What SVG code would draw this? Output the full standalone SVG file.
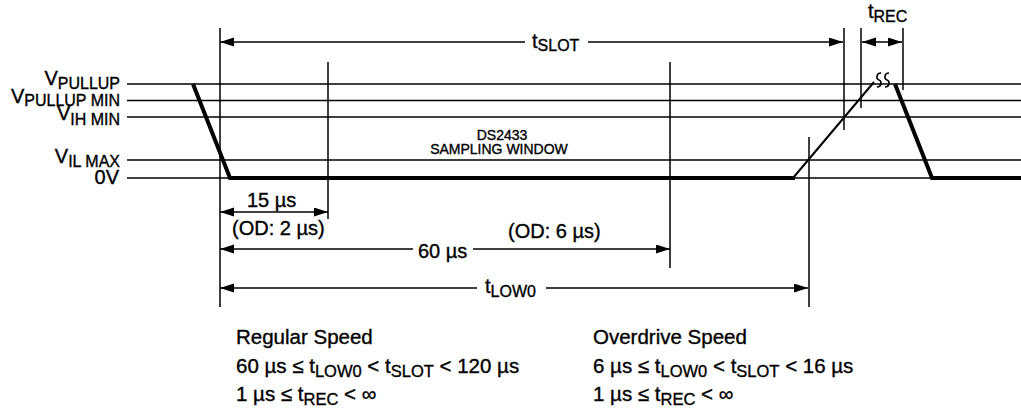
<svg xmlns="http://www.w3.org/2000/svg" width="1021" height="412" viewBox="0 0 1021 412">
<defs>
<marker id="ah" markerUnits="userSpaceOnUse" markerWidth="14" markerHeight="10" refX="14" refY="4.5" orient="auto-start-reverse">
<path d="M0,0 L14,4.5 L0,9 z" fill="#000"/>
</marker>
</defs>
<style>
text{font-family:"Liberation Sans",Arial,sans-serif;fill:#000;stroke:#000;stroke-width:0.35}
.t{font-size:20px}
.s{font-size:16px}
.b{font-size:20.5px}
.bs{font-size:16.5px}
.sw{font-size:14px}
.lv{stroke:#000;stroke-width:1.5;fill:none}
.ref{stroke:#000;stroke-width:1.5;fill:none}
.dim{stroke:#000;stroke-width:1.6;fill:none}
.sig{stroke:#000;stroke-width:4;fill:none;stroke-linejoin:miter}
</style>
<rect width="1021" height="412" fill="#fff"/>
<g id="levels">
<line class="lv" x1="127" y1="84" x2="1021" y2="84"/>
<line class="lv" x1="127" y1="100.5" x2="1021" y2="100.5"/>
<line class="lv" x1="127" y1="117" x2="1021" y2="117"/>
<line class="lv" x1="127" y1="160" x2="1021" y2="160"/>
<line class="lv" x1="127" y1="178" x2="1021" y2="178"/>
</g>
<g id="level-labels" text-anchor="end">
<text class="t" x="120" y="85">V<tspan class="s" dy="4">PULLUP</tspan></text>
<text class="t" x="120" y="103">V<tspan class="s" dy="3">PULLUP MIN</tspan></text>
<text class="t" x="120" y="120">V<tspan class="s" dy="5">IH MIN</tspan></text>
<text class="t" x="120" y="163">V<tspan class="s" dy="4">IL MAX</tspan></text>
<text class="t" x="119" y="184">0V</text>
</g>
<g id="reference-lines">
<line class="ref" x1="220" y1="28" x2="220" y2="307"/>
<line class="ref" x1="328" y1="62" x2="328" y2="219"/>
<line class="ref" x1="670" y1="62" x2="670" y2="268"/>
<line class="ref" x1="809" y1="137" x2="809" y2="307"/>
<line class="ref" x1="844" y1="28" x2="844" y2="130"/>
<line class="ref" x1="861" y1="28" x2="861" y2="108"/>
<line class="ref" x1="903" y1="28" x2="903" y2="90"/>
</g>
<g id="signal">
<polyline class="sig" points="193,84 230,178 795,178"/>
<line x1="793" y1="178" x2="874" y2="82" stroke="#000" stroke-width="2"/>
<path d="M881,73 C876,73 876,79 879,80 C882,81 882,87 877,87 M889,73 C884,73 884,79 887,80 C890,81 890,87 885,87" stroke="#000" stroke-width="1.6" fill="none"/>
<polyline class="sig" points="895,84 932,178 1021,178"/>
</g>
<g id="connectors">
<line class="dim" x1="220" y1="42" x2="525" y2="42" marker-start="url(#ah)"/>
<line class="dim" x1="588" y1="42" x2="843" y2="42" marker-end="url(#ah)"/>
<line class="dim" x1="862" y1="42" x2="902" y2="42" marker-start="url(#ah)" marker-end="url(#ah)"/>
<line class="dim" x1="220" y1="212" x2="328" y2="212" marker-start="url(#ah)" marker-end="url(#ah)"/>
<line class="dim" x1="220" y1="249" x2="413" y2="249" marker-start="url(#ah)"/>
<line class="dim" x1="473" y1="249" x2="670" y2="249" marker-end="url(#ah)"/>
<line class="dim" x1="220" y1="288" x2="477" y2="288" marker-start="url(#ah)"/>
<line class="dim" x1="546" y1="288" x2="808" y2="288" marker-end="url(#ah)"/>
</g>
<g id="dimension-labels">
<text class="t" x="532" y="48">t<tspan class="s" dy="3">SLOT</tspan></text>
<text class="t" x="868" y="18">t<tspan class="s" dy="4">REC</tspan></text>
<text class="t" x="247" y="207">15 µs</text>
<text class="t" x="232" y="235">(OD: 2 µs)</text>
<text class="t" x="418" y="258">60 µs</text>
<text class="t" x="508" y="238">(OD: 6 µs)</text>
<text class="t" x="485" y="293">t<tspan class="s" dy="4">LOW0</tspan></text>
</g>
<g id="sampling-window" text-anchor="middle">
<text class="sw" x="502" y="140">DS2433</text>
<text class="sw" x="499" y="154">SAMPLING WINDOW</text>
</g>
<g id="regular-speed">
<text class="b" x="236" y="344">Regular Speed</text>
<text class="b" x="236" y="373">60 µs ≤ t<tspan class="bs" dy="4">LOW0</tspan><tspan dy="-4"> &lt; t</tspan><tspan class="bs" dy="4">SLOT</tspan><tspan dy="-4"> &lt; 120 µs</tspan></text>
<text class="b" x="236" y="401">1 µs ≤ t<tspan class="bs" dy="4">REC</tspan><tspan dy="-4"> &lt; ∞</tspan></text>
</g>
<g id="overdrive-speed">
<text class="b" x="593" y="344">Overdrive Speed</text>
<text class="b" x="593" y="373">6 µs ≤ t<tspan class="bs" dy="4">LOW0</tspan><tspan dy="-4"> &lt; t</tspan><tspan class="bs" dy="4">SLOT</tspan><tspan dy="-4"> &lt; 16 µs</tspan></text>
<text class="b" x="593" y="401">1 µs ≤ t<tspan class="bs" dy="4">REC</tspan><tspan dy="-4"> &lt; ∞</tspan></text>
</g>
</svg>
